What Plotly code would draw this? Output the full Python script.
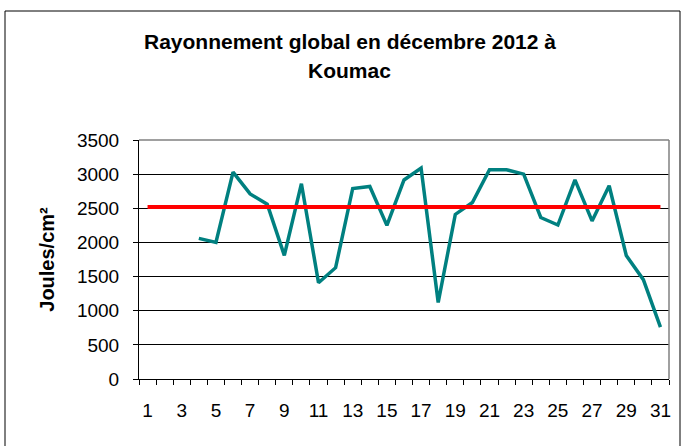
import plotly.graph_objects as go

days = list(range(1, 32))
rayonnement = [None, None, None, 2060, 2000, 3030, 2710, 2560, 1810, 2860,
               1410, 1630, 2790, 2820, 2250, 2915, 3090, 1120, 2410, 2585,
               3065, 3065, 3000, 2365, 2255, 2915, 2315, 2830, 1810, 1455, 760]
moyenne = [2520] * 31
x_labels = [str(d) for d in range(1, 32, 2)]
y_ticks = list(range(0, 3501, 500))

FONT = "Liberation Sans, Arial, sans-serif"

fig = go.Figure()
fig.add_trace(go.Scatter(x=days, y=rayonnement, mode="lines",
                         line=dict(color="#008080", width=3.5),
                         connectgaps=False, showlegend=False))
fig.add_trace(go.Scatter(x=days, y=moyenne, mode="lines",
                         line=dict(color="#FF0000", width=4),
                         showlegend=False))

L, R, T, B = 139, 669, 140, 379
W, H = 685, 446
pw, ph = R - L, B - T

def px(x):
    return (x - L) / pw

def py(y):
    return (B - y) / ph

fig.update_layout(
    width=W, height=H,
    margin=dict(l=L, r=W - R, t=T, b=H - B, autoexpand=False),
    paper_bgcolor="white", plot_bgcolor="white",
    font=dict(family=FONT, size=19, color="black"),
    xaxis=dict(range=[0.5, 31.5], tickvals=list(range(1, 32, 2)), ticktext=x_labels,
               ticks="", showgrid=False, zeroline=False,
               showline=True, linecolor="black", linewidth=1,
               tickfont=dict(size=19), ticklabelstandoff=14,
               minor=dict(tick0=0.5, dtick=1, ticks="outside", ticklen=5,
                          tickcolor="black", tickwidth=1, showgrid=False)),
    yaxis=dict(range=[0, 3500], tickvals=y_ticks, ticks="outside", ticklen=5,
               tickcolor="black", showgrid=True, gridcolor="black", gridwidth=1,
               zeroline=False, showline=True, linecolor="black", linewidth=1,
               tickfont=dict(size=19), ticklabelstandoff=10,
               title=dict(text="<b>Joules/cm²</b>", font=dict(size=20), standoff=16)),
)

# plot area right/top border (grey)
fig.add_shape(type="line", xref="paper", yref="paper", x0=0, x1=1, y0=1, y1=1,
              line=dict(color="#808080", width=1.5))
fig.add_shape(type="line", xref="paper", yref="paper", x0=1, x1=1, y0=0, y1=1,
              line=dict(color="#808080", width=1.5))
# outer chart frame
fig.add_shape(type="rect", xref="paper", yref="paper",
              x0=px(5), x1=px(680), y0=py(460), y1=py(11),
              line=dict(color="black", width=1), layer="below")

fig.add_annotation(text="<b>Rayonnement global en décembre 2012 à</b>",
                   xref="paper", yref="paper", x=px(350), y=py(42),
                   showarrow=False, font=dict(size=21), xanchor="center", yanchor="middle")
fig.add_annotation(text="<b>Koumac</b>",
                   xref="paper", yref="paper", x=px(349), y=py(71),
                   showarrow=False, font=dict(size=21), xanchor="center", yanchor="middle")

fig.write_html("out.html", config={"displayModeBar": False},
               post_script="document.body.style.margin='0';")
